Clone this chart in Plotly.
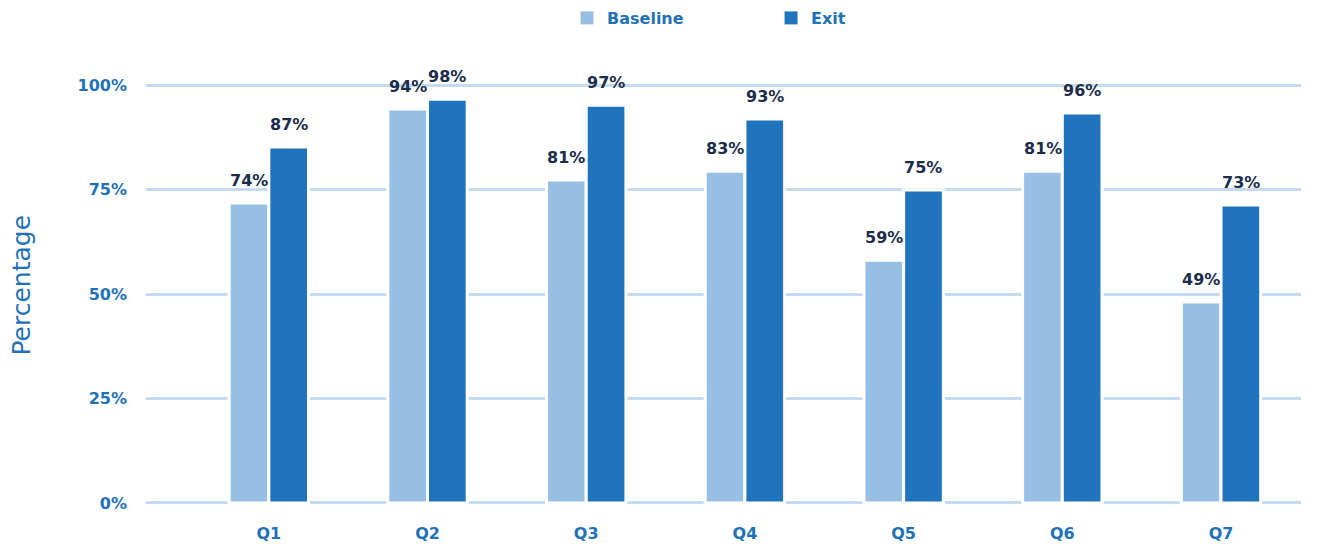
import plotly.graph_objects as go

categories = ["Q1", "Q2", "Q3", "Q4", "Q5", "Q6", "Q7"]
baseline_values = [71.8, 94.3, 77.3, 79.4, 58.1, 79.4, 48.1]
exit_values = [85.2, 96.6, 95.2, 91.9, 74.9, 93.3, 71.3]
baseline_labels = ["74%", "94%", "81%", "83%", "59%", "81%", "49%"]
exit_labels = ["87%", "98%", "97%", "93%", "75%", "96%", "73%"]
y_ticks = [0, 25, 50, 75, 100]
y_tick_text = ["0%", "25%", "50%", "75%", "100%"]

FONT = "DejaVu Sans"
BLUE_TXT = "#1f72b8"
LABEL_TXT = "#1b2d4b"
C_BASE = "#98bfe4"
C_EXIT = "#1f74bb"

fig = go.Figure()
fig.add_trace(go.Bar(
    name="Baseline", x=categories, y=baseline_values, showlegend=False,
    marker=dict(color=C_BASE, line=dict(color="white", width=3)),
))
fig.add_trace(go.Bar(
    name="Exit", x=categories, y=exit_values, showlegend=False,
    marker=dict(color=C_EXIT, line=dict(color="white", width=3)),
))
# legend entries with larger square swatches
fig.add_trace(go.Scatter(name="Baseline", x=[None], y=[None], mode="markers",
                         marker=dict(symbol="square", size=13, color=C_BASE)))
fig.add_trace(go.Scatter(name="Exit", x=[None], y=[None], mode="markers",
                         marker=dict(symbol="square", size=13, color=C_EXIT)))

# value labels above bars
for cat, v, lab in zip(categories, baseline_values, baseline_labels):
    fig.add_annotation(x=cat, y=v, text=lab, showarrow=False, xshift=-19.8,
                       yanchor="bottom", yshift=11,
                       font=dict(family=FONT, size=16, color=LABEL_TXT, weight=700))
for cat, v, lab in zip(categories, exit_values, exit_labels):
    fig.add_annotation(x=cat, y=v, text=lab, showarrow=False, xshift=19.8,
                       yanchor="bottom", yshift=11,
                       font=dict(family=FONT, size=16, color=LABEL_TXT, weight=700))

fig.update_layout(
    width=1332, height=548,
    margin=dict(l=146, r=31, t=83, b=43),
    paper_bgcolor="white", plot_bgcolor="white",
    barmode="group", bargap=0.5, bargroupgap=0.0,
    font=dict(family=FONT),
    legend=dict(
        orientation="h", xref="container", yref="container",
        x=0.4257, xanchor="left", y=1 - 18 / 548, yanchor="middle",
        font=dict(family=FONT, size=16, color=BLUE_TXT, weight=700),
        entrywidth=159, itemwidth=30,
    ),
    xaxis=dict(
        range=[-0.774, 6.504], showgrid=False, zeroline=False, showline=False,
        tickfont=dict(family=FONT, size=16, color=BLUE_TXT, weight=700),
        ticklabelstandoff=17, automargin=False,
    ),
    yaxis=dict(
        range=[-0.5, 100.5], tickmode="array", tickvals=y_ticks, ticktext=y_tick_text,
        showgrid=True, gridcolor="#c4dbf1", gridwidth=3,
        zeroline=False, showline=False,
        tickfont=dict(family=FONT, size=16, color=BLUE_TXT, weight=700),
        ticklabelstandoff=18, automargin=False,
    ),
    showlegend=True,
)

fig.add_annotation(
    text="Percentage", textangle=-90, xref="paper", yref="paper",
    x=0, y=0.52, xanchor="center", yanchor="middle", xshift=-124,
    showarrow=False, font=dict(family=FONT, size=25, color=BLUE_TXT),
)

fig.write_html("out.html")
